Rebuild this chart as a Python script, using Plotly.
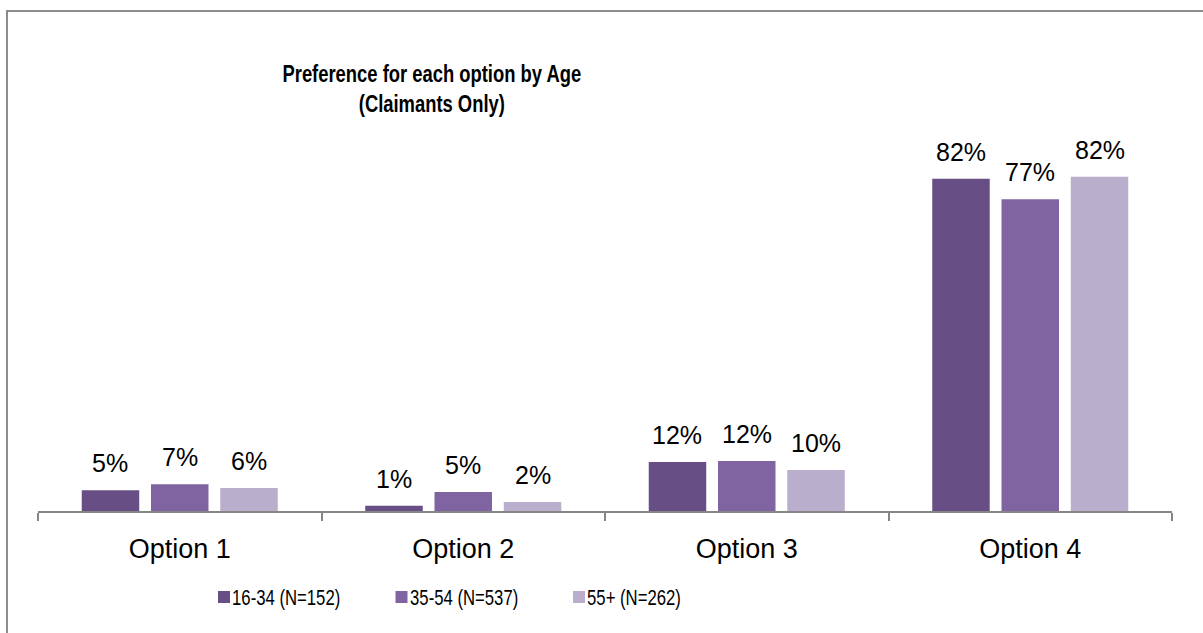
import plotly.graph_objects as go

categories = ["Option 1", "Option 2", "Option 3", "Option 4"]
series_names = ["16-34 (N=152)", "35-54 (N=537)", "55+ (N=262)"]
s_16_34 = [5.1, 1.3, 12.1, 81.9]
s_35_54 = [6.6, 4.7, 12.3, 76.9]
s_55p = [5.7, 2.2, 10.1, 82.4]
colors = ["#674f86", "#8064a2", "#b9afcc"]
title_text = "Preference for each option by Age<br>(Claimants Only)"

W, H = 1203, 633
L, R, T, B = 38, 31, 146, 122
pw = W - L - R
ph = H - T - B
FONT = "Liberation Sans, Arial, sans-serif"

def px_x(x):
    return (x - L) / pw

def px_y(y):
    return (H - B - y) / ph

fig = go.Figure()
all_series = [s_16_34, s_35_54, s_55p]
for name, vals, c in zip(series_names, all_series, colors):
    fig.add_trace(go.Bar(x=categories, y=vals, name=name, marker_color=c,
                         marker_line_width=0, showlegend=False))

bargap = 0.267
bargroupgap = 0.17
cat_px = pw / len(categories)
slot_px = cat_px * (1 - bargap) / 3

annotations = []
for i, vals in enumerate(all_series):
    for cat, v in zip(categories, vals):
        annotations.append(dict(x=cat, y=v, xref="x", yref="y",
                                text=f"{round(v)}%", showarrow=False,
                                yanchor="bottom", yshift=11,
                                xshift=(i - 1) * slot_px,
                                font=dict(family=FONT, size=25, color="#000")))

annotations.append(dict(x=px_x(432), y=px_y(89), xref="paper", yref="paper",
                        text="<b>" + title_text + "</b>", showarrow=False,
                        xanchor="center", yanchor="middle",
                        font=dict(family=FONT, size=23, color="#000")))

# manual legend (Excel style: small square, text right next to it)
shapes = [dict(type="rect", xref="paper", yref="paper",
               x0=px_x(7), x1=px_x(1215), y0=px_y(645), y1=px_y(11),
               line=dict(color="#8c8c8c", width=2), fillcolor="rgba(0,0,0,0)",
               layer="above")]
leg_x0, leg_step, leg_y = 218, 177.5, 597
for i, (name, c) in enumerate(zip(series_names, colors)):
    x0 = leg_x0 + i * leg_step
    shapes.append(dict(type="rect", xref="paper", yref="paper",
                       x0=px_x(x0), x1=px_x(x0 + 12),
                       y0=px_y(leg_y + 6), y1=px_y(leg_y - 6),
                       line=dict(width=0), fillcolor=c))
    annotations.append(dict(x=px_x(x0 + 12), y=px_y(leg_y), xref="paper",
                            yref="paper", text=name, showarrow=False,
                            xanchor="left", yanchor="middle",
                            font=dict(family=FONT, size=22, color="#000")))

fig.update_layout(
    width=W, height=H,
    margin=dict(l=L, r=R, t=T, b=B),
    paper_bgcolor="white", plot_bgcolor="white",
    barmode="group", bargap=bargap, bargroupgap=bargroupgap,
    showlegend=False,
    annotations=annotations,
    shapes=shapes,
    xaxis=dict(showline=True, linecolor="#868686", linewidth=2,
               ticks="outside", tickson="boundaries", ticklen=8,
               tickcolor="#868686", tickwidth=2, showgrid=False,
               tickfont=dict(family=FONT, size=27, color="#000"),
               ticklabelstandoff=13),
    yaxis=dict(range=[0, 90], visible=False, showgrid=False, zeroline=False),
)

post = """
document.body.style.margin = '0';
document.querySelectorAll('.annotation-text').forEach(function (t) {
  var s = t.textContent;
  if (s.indexOf('Preference') >= 0) {
    t.style.transformBox = 'fill-box';
    t.style.transformOrigin = 'center center';
    t.style.transform = 'scaleX(0.8)';
  } else if (s.indexOf('N=') >= 0) {
    t.style.transformBox = 'fill-box';
    t.style.transformOrigin = 'left center';
    t.style.transform = 'scaleX(0.76)';
  }
});
"""

fig.write_html("out.html", post_script=post,
               config={"displayModeBar": False})
